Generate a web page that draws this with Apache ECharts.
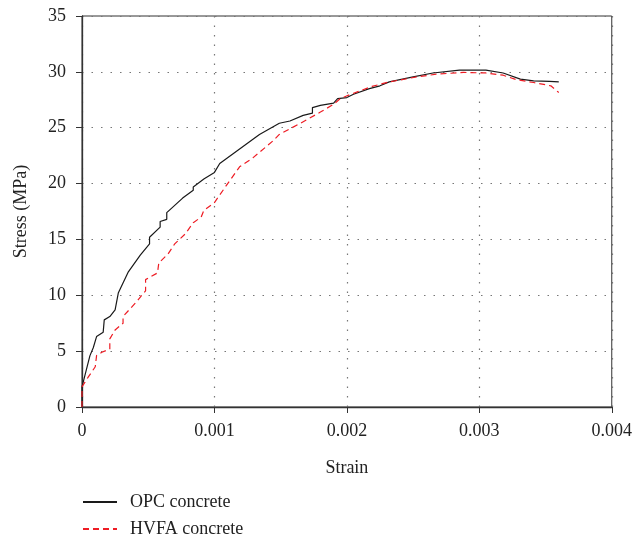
<!DOCTYPE html>
<html>
<head>
<meta charset="utf-8">
<script src="https://cdn.jsdelivr.net/npm/echarts@6/dist/echarts.min.js"></script>
<style>
html, body { margin: 0; padding: 0; background: #fff; }
#chart { width: 635px; height: 541px; }
</style>
</head>
<body>
<div id="chart"></div>
<script>
// values
var xTicks = [0, 0.001, 0.002, 0.003, 0.004];
var yTicks = [0, 5, 10, 15, 20, 25, 30, 35];

var opcStrain = [0, 0, 0.00006, 0.000085, 0.00011, 0.00016, 0.000168, 0.00021, 0.00025, 0.000274,
  0.00035, 0.00044, 0.00051, 0.00051, 0.00059, 0.00059, 0.00064, 0.00064, 0.00076, 0.00084,
  0.00084, 0.00092, 0.001, 0.00104, 0.00119, 0.00134, 0.00149, 0.00157, 0.00167, 0.00174,
  0.00174, 0.0018, 0.0019, 0.00193, 0.002, 0.00205, 0.00217, 0.00225, 0.00232, 0.0025,
  0.00265, 0.00285, 0.00305, 0.00318, 0.00331, 0.00341, 0.00353, 0.0036];
var opcStress = [0, 1.8, 4.6, 5.3, 6.3, 6.7, 7.8, 8.1, 8.7, 10.2,
  12.1, 13.6, 14.6, 15.2, 16.1, 16.6, 16.8, 17.4, 18.7, 19.4,
  19.7, 20.4, 21.0, 21.8, 23.1, 24.4, 25.4, 25.6, 26.1, 26.3,
  26.8, 27.0, 27.2, 27.6, 27.7, 28.0, 28.5, 28.75, 29.1, 29.55,
  29.9, 30.15, 30.15, 29.9, 29.35, 29.2, 29.15, 29.1];

var hvfaStrain = [0, 0, 0.000048, 0.0001, 0.00011, 0.00015, 0.00021, 0.00021, 0.00025, 0.00031,
  0.00031, 0.00041, 0.00048, 0.00048, 0.00057, 0.00058, 0.00065, 0.0007, 0.00078, 0.00084,
  0.0009, 0.00092, 0.001, 0.0011, 0.00119, 0.00129, 0.00134, 0.00144, 0.00149, 0.00165,
  0.0018, 0.0019, 0.00195, 0.00201, 0.0021, 0.00219, 0.00232, 0.00253, 0.00268, 0.00288,
  0.00305, 0.00318, 0.00328, 0.00341, 0.00354, 0.0036];
var hvfaStress = [0, 1.8, 2.7, 3.6, 4.6, 4.9, 5.2, 6.1, 6.9, 7.5,
  8.1, 9.4, 10.4, 11.4, 12.0, 12.9, 13.7, 14.6, 15.5, 16.5,
  17.0, 17.6, 18.3, 20.0, 21.5, 22.3, 22.8, 23.8, 24.4, 25.4,
  26.4, 27.1, 27.6, 27.9, 28.3, 28.7, 29.1, 29.55, 29.8, 29.95,
  29.9, 29.7, 29.3, 29.05, 28.75, 28.15];

function zip(xs, ys) {
  var out = [];
  for (var i = 0; i < xs.length; i++) {
    out.push([xs[i], ys[i]]);
  }
  return out;
}

var font = '"Liberation Serif", "DejaVu Serif", serif';
var chart = echarts.init(document.getElementById('chart'));

var option = {
  backgroundColor: '#fff',
  animation: false,
  textStyle: { fontFamily: font },
  grid: {
    left: 82, right: 23, top: 16, bottom: 134,
    show: true,
    borderColor: '#333',
    borderWidth: 1
  },
  legend: {
    orient: 'vertical',
    left: 82,
    top: 493,
    height: 60,
    padding: 0,
    itemWidth: 34,
    itemHeight: 12,
    itemGap: 9,
    itemStyle: { opacity: 0 },
    textStyle: { fontFamily: font, fontSize: 18, color: '#222', padding: [0, 0, 0, 8] },
    data: ['OPC concrete', 'HVFA concrete']
  },
  xAxis: {
    type: 'value',
    min: xTicks[0],
    max: xTicks[xTicks.length - 1],
    interval: 0.001,
    name: 'Strain',
    nameLocation: 'middle',
    nameGap: 52,
    nameTextStyle: { fontFamily: font, fontSize: 18, color: '#222' },
    axisLine: { lineStyle: { color: '#333', width: 1.3 } },
    axisTick: { show: true, length: 6, lineStyle: { color: '#333' } },
    axisLabel: {
      fontFamily: font, fontSize: 18, color: '#222', margin: 15,
      formatter: function (v) { return v === 0 ? '0' : v.toFixed(3); }
    },
    splitLine: { show: true, lineStyle: { color: '#777', type: [1.5, 8], width: 1.2 } }
  },
  yAxis: {
    type: 'value',
    min: yTicks[0],
    max: yTicks[yTicks.length - 1],
    interval: 5,
    name: 'Stress (MPa)',
    nameLocation: 'middle',
    nameGap: 52,
    nameTextStyle: { fontFamily: font, fontSize: 18, color: '#222' },
    axisLine: { show: true, lineStyle: { color: '#333', width: 1.3 } },
    axisTick: { show: true, length: 6, lineStyle: { color: '#333' } },
    axisLabel: { fontFamily: font, fontSize: 18, color: '#222', margin: 16 },
    splitLine: { show: true, lineStyle: { color: '#777', type: [1.5, 8], width: 1.2 } }
  },
  series: [
    {
      name: 'OPC concrete',
      type: 'line',
      symbol: 'none',
      data: zip(opcStrain, opcStress),
      lineStyle: { color: '#1a1a1a', width: 1.2 },
      itemStyle: { color: '#1a1a1a' },
      z: 3
    },
    {
      name: 'HVFA concrete',
      type: 'line',
      symbol: 'none',
      data: zip(hvfaStrain, hvfaStress),
      lineStyle: { color: '#ee1c24', width: 1.2, type: [6, 4] },
      itemStyle: { color: '#ee1c24' },
      z: 4
    }
  ]
};

chart.setOption(option);
</script>
</body>
</html>
